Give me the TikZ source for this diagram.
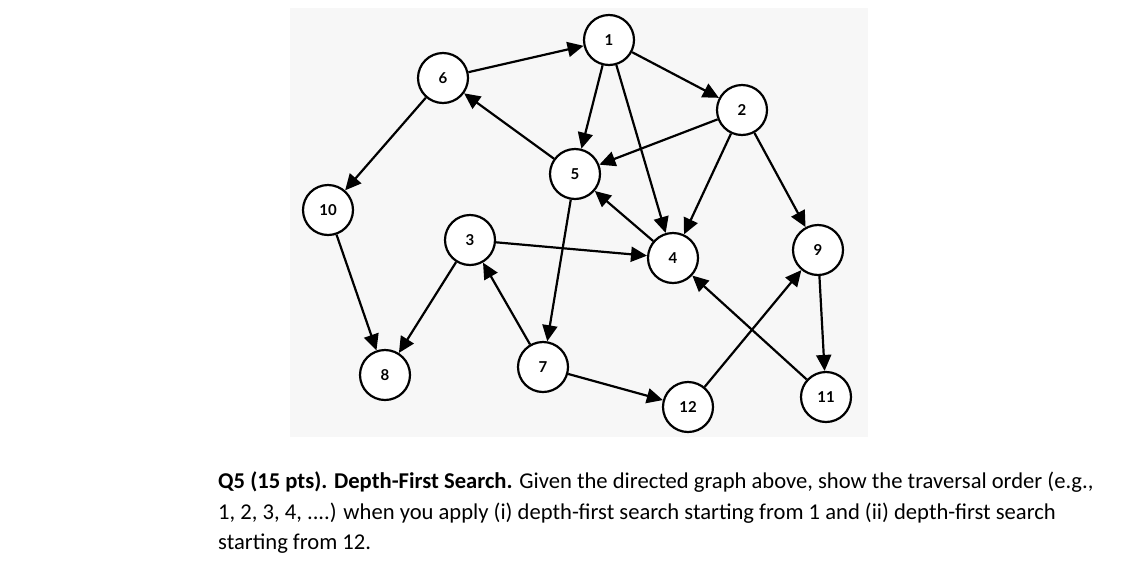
\documentclass[tikz,border=0pt]{standalone}
\usepackage{fontspec}
\setmainfont{Carlito}
\newfontfamily\nodefont{Lato}
\usetikzlibrary{arrows.meta}
\begin{document}
\begin{tikzpicture}[x=1pt,y=-1pt,
  v/.style={circle,draw,line width=2.2pt,fill=white,minimum size=50pt,inner sep=0pt,font=\nodefont\bfseries\fontsize{15}{15}\selectfont},
  e/.style={line width=2.2pt,-{Triangle[length=16pt,width=15pt]}}]
\useasboundingbox (0,0) rectangle (1139,571);
\fill[gray!6] (290,8) rectangle (868,437);
\node[v] (n1) at (609,40) {1};
\node[v] (n6) at (443,78) {6};
\node[v] (n2) at (742,110) {2};
\node[v] (n5) at (575,174) {5};
\node[v] (n10) at (328,210) {10};
\node[v] (n3) at (470,240) {3};
\node[v] (n4) at (673,258) {4};
\node[v] (n9) at (818,250) {9};
\node[v] (n8) at (385,375) {8};
\node[v] (n7) at (543,367) {7};
\node[v] (n12) at (688,407) {12};
\node[v] (n11) at (826,397) {11};
\foreach \a/\b in {n6/n1,n1/n2,n1/n5,n1/n4,n2/n5,n2/n4,n2/n9,n5/n6,n6/n10,n5/n7,n4/n5,n3/n4,n3/n8,n7/n3,n10/n8,n7/n12,n12/n9,n11/n4,n9/n11}
  \draw[e] (\a) -- (\b);
\node[anchor=west,align=left,font=\fontsize{22.6}{30.5}\selectfont,inner sep=0pt] (q) at (218,513)
{\textbf{Q5 (15 pts). Depth-First Search.} Given the directed graph above, show the traversal order (e.g.,\\
1, 2, 3, 4, ....) when you apply (i) depth-first search starting from 1 and (ii) depth-first search\\
starting from 12.};
\end{tikzpicture}
\end{document}
